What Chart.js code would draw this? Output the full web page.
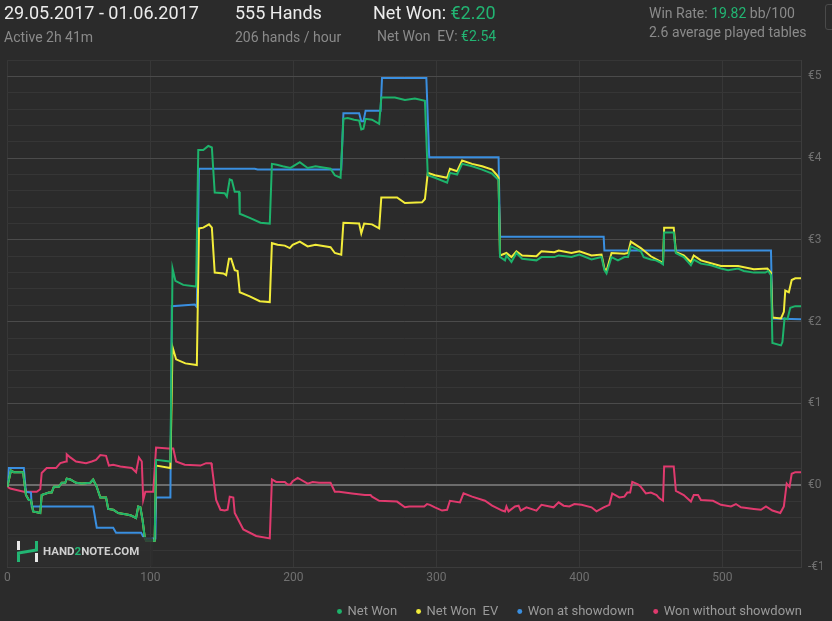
<!DOCTYPE html>
<html>
<head>
<meta charset="utf-8">
<script src="https://cdn.jsdelivr.net/npm/chart.js@4.4.1/dist/chart.umd.min.js"></script>
<style>
html, body { margin: 0; padding: 0; background: #2b2b2b; }
body { width: 832px; height: 621px; position: relative; overflow: hidden; font-family: Roboto, sans-serif; }
#wrap { position: absolute; left: 0; top: 0; width: 832px; height: 621px; }
.t { position: absolute; white-space: pre; }
.big { font-size: 18px; line-height: 18px; color: #ececec; }
.sm { font-size: 14px; line-height: 14px; color: #8a8a8a; }
.g { color: #22b573; }
#logo { position: absolute; left: 8px; top: 537px; width: 145px; height: 29px; background: rgba(46,46,46,0.8); border-radius: 2px; }
#logo svg { position: absolute; left: 4px; top: 3px; }
#logo span { position: absolute; left: 35px; top: 8px; font-size: 11.5px; line-height: 13px; font-weight: bold; color: #cfcfcf; }
#btn { position: absolute; left: 825px; top: 4px; width: 20px; height: 24px; border: 1px solid #4a4a4a; border-radius: 3px; }
</style>
</head>
<body>
<div id="wrap"><canvas id="chart"></canvas></div>

<div class="t big" style="left:4px;top:4px">29.05.2017 - 01.06.2017</div>
<div class="t sm" style="left:4px;top:30px">Active 2h 41m</div>
<div class="t big" style="left:235px;top:4px">555 Hands</div>
<div class="t sm" style="left:235px;top:30px">206 hands / hour</div>
<div class="t big" style="left:373px;top:4px">Net Won: <span class="g">€2.20</span></div>
<div class="t sm" style="left:377px;top:29px">Net Won  EV: <span class="g">€2.54</span></div>
<div class="t sm" style="left:649px;top:6px">Win Rate: <span class="g">19.82</span> bb/100</div>
<div class="t sm" style="left:649px;top:25px">2.6 average played tables</div>
<div id="btn"></div>

<div id="logo">
  <svg width="26" height="24">
    <rect x="5" y="1" width="3" height="9" fill="#e8e8e8"/>
    <polyline points="6.5,22 6.5,13 24.5,10 24.5,1" fill="none" stroke="#22b573" stroke-width="3"/>
    <rect x="23" y="13" width="3" height="9" fill="#e8e8e8"/>
  </svg>
  <span>HAND<span style="position:static;color:#22b573">2</span>NOTE.COM</span>
</div>

<script>
// hand number, euro
var netWon = [
  [0,-0.02],[2.5,0.18],[4.5,0.16],[11,0.16],[13,-0.12],[15,-0.18],[16.5,-0.18],[18,-0.32],[23,-0.34],[24,-0.12],
  [29,-0.09],[31,-0.09],[32.5,-0.02],[36,-0.02],[38,0.03],[40.5,0.03],[41.5,0.08],[44,0.07],[48,0.03],[52,0.02],
  [58,0.03],[60,0.07],[62.5,-0.02],[65,-0.15],[69,-0.15],[70.5,-0.29],[74,-0.30],[77.5,-0.34],[84.5,-0.36],[86.5,-0.37],
  [90,-0.40],[91.5,-0.26],[93,-0.27],[94.5,-0.42],[96,-0.63],[97,-0.68],[103,-0.68],[104,0.31],[114,0.29],[115.5,2.65],
  [117.5,2.50],[123,2.45],[132,2.43],[133.5,4.10],[137,4.10],[140.5,4.15],[143,4.13],[145,3.58],[152,3.57],[153.5,3.53],
  [155.5,3.74],[157,3.73],[159,3.59],[162,3.59],[162.5,3.32],[169.5,3.27],[177,3.21],[183.5,3.20],[185,3.93],[188.5,3.92],
  [192.5,3.90],[198,3.88],[204.5,3.95],[210,3.88],[215.5,3.90],[226,3.87],[229,3.79],[233,3.76],[235,4.48],[238,4.49],
  [242.5,4.47],[246,4.46],[247.5,4.35],[249,4.36],[250.5,4.48],[255,4.47],[260,4.42],[261.5,4.74],[271,4.74],[278,4.71],
  [285,4.73],[292,4.70],[294,3.79],[299,3.76],[307.5,3.70],[309.5,3.82],[314.5,3.80],[318,3.93],[325,3.90],[332,3.86],
  [339,3.81],[342.5,3.75],[343.5,3.73],[344.5,2.79],[348,2.75],[349,2.81],[352.5,2.73],[356,2.84],[360,2.77],[370,2.75],
  [373.5,2.79],[382.5,2.79],[385.5,2.81],[394.5,2.79],[400,2.82],[408.5,2.76],[415.5,2.79],[417.5,2.63],[419,2.59],[422.5,2.79],
  [427,2.75],[431.5,2.79],[434,2.79],[436,2.92],[440,2.89],[443,2.86],[445,2.79],[450,2.76],[453.5,2.75],[456,2.73],
  [458.5,2.70],[459.3,3.09],[466,3.09],[467.5,2.84],[473,2.79],[478,2.69],[480,2.76],[485,2.71],[492,2.69],[499,2.65],
  [504,2.63],[511,2.65],[515,2.62],[522,2.60],[530,2.60],[532,2.62],[534,2.57],[535,1.74],[541,1.71],[542,1.75],
  [543.5,2.04],[545.5,2.03],[547.5,2.17],[551,2.19],[555,2.19]
];

var netWonEV = [
  [0,-0.02],[2.5,0.18],[4.5,0.16],[11,0.16],[13,-0.12],[15,-0.18],[16.5,-0.18],[18,-0.32],[23,-0.34],[24,-0.12],
  [29,-0.09],[31,-0.09],[32.5,-0.02],[36,-0.02],[38,0.03],[40.5,0.03],[41.5,0.08],[44,0.07],[48,0.03],[52,0.02],
  [58,0.03],[60,0.07],[62.5,-0.02],[65,-0.15],[69,-0.15],[70.5,-0.29],[74,-0.30],[77.5,-0.34],[84.5,-0.36],[86.5,-0.37],
  [90,-0.40],[91.5,-0.26],[93,-0.27],[94.5,-0.42],[96,-0.63],[97,-0.68],[103,-0.68],[104,0.24],[114,0.21],[115.5,1.69],
  [118,1.54],[124.5,1.49],[132.5,1.47],[134,3.14],[137,3.15],[141,3.19],[143,3.15],[145,2.60],[151,2.59],[153,2.57],
  [155,2.77],[156.5,2.77],[159,2.63],[161,2.62],[162.5,2.36],[169.5,2.31],[176.5,2.25],[183.5,2.24],[185,2.96],[189,2.94],
  [194,2.93],[197.5,2.90],[199.5,2.94],[204.5,2.98],[210,2.92],[215.5,2.94],[226,2.91],[229,2.84],[233.5,2.82],[235,3.21],
  [246,3.20],[247.5,3.08],[249.5,3.20],[255,3.19],[260,3.14],[261.5,3.52],[272.5,3.52],[278,3.45],[290,3.46],[292,3.50],
  [294,3.82],[299,3.79],[307.5,3.76],[309.5,3.87],[314.5,3.84],[318,3.97],[325,3.93],[332,3.90],[339,3.86],[342.5,3.79],
  [343.5,3.76],[344.5,2.81],[349,2.84],[352.5,2.79],[356,2.86],[360,2.81],[370,2.80],[373.5,2.86],[382.5,2.85],[385.5,2.87],
  [394.5,2.84],[400,2.86],[408.5,2.81],[415.5,2.82],[417.5,2.65],[419,2.62],[422.5,2.84],[431.5,2.83],[434,2.84],[436,2.98],
  [443,2.90],[450,2.80],[458.5,2.72],[459.3,3.15],[466,3.15],[467.5,2.85],[473,2.81],[478,2.73],[480,2.81],[485,2.75],
  [499,2.68],[511,2.68],[522,2.64],[531.5,2.65],[534,2.60],[535,2.05],[541,2.04],[543,2.12],[544,2.38],[546.5,2.36],
  [548.5,2.51],[551,2.53],[555,2.53]
];

var wonAtShowdown = [
  [0,-0.02],[1,0.21],[11.5,0.21],[13,-0.08],[16.5,-0.09],[17,-0.26],[60,-0.26],[62.5,-0.52],[74,-0.52],[76,-0.58],
  [93.5,-0.58],[95,-0.63],[97,-0.65],[103.5,-0.65],[104,-0.15],[114,-0.15],[115,2.19],[131,2.21],[132.5,2.18],[134,3.87],
  [173,3.87],[175,3.86],[233.5,3.86],[235,4.55],[246,4.55],[247.5,4.45],[249,4.45],[250.5,4.58],[261,4.58],[262,4.98],
  [293,4.98],[295,4.01],[343.5,4.01],[344.5,3.04],[417,3.04],[417.5,2.87],[534,2.87],[535,2.04],[555,2.03]
];

var wonWithoutShowdown = [
  [0,-0.02],[2,-0.04],[11.5,-0.08],[20.5,-0.08],[23,-0.05],[24,0.15],[27.5,0.21],[34,0.21],[37,0.27],[41,0.29],
  [41.5,0.38],[44,0.34],[48,0.29],[55,0.27],[59,0.29],[62,0.31],[65,0.37],[69,0.36],[71,0.24],[74,0.25],
  [79,0.23],[87,0.21],[90,0.16],[92,0.34],[94,0.29],[95,-0.18],[96.5,-0.08],[102,-0.08],[104,0.46],[112.5,0.45],
  [116,0.45],[118,0.29],[124,0.25],[135,0.24],[139,0.27],[142.5,0.27],[143,0.23],[146,-0.18],[149,-0.30],[152,-0.31],
  [154,-0.30],[155.5,-0.14],[158,-0.15],[159,-0.34],[165,-0.54],[174,-0.62],[183.5,-0.65],[185,0.07],[188,0.04],[194,0.04],
  [196,0.01],[198,0.01],[199.5,0.05],[203,0.09],[205,0.07],[210,0.02],[213.5,0.04],[218,0.03],[226,0.03],[229,-0.08],
  [232,-0.08],[241,-0.10],[250,-0.12],[254,-0.12],[255,-0.14],[260,-0.19],[272.5,-0.20],[278,-0.27],[281,-0.26],[291.5,-0.26],
  [293.5,-0.23],[295.5,-0.24],[299,-0.27],[304,-0.31],[307.5,-0.30],[309.5,-0.19],[316.5,-0.21],[319,-0.10],[325,-0.14],[334,-0.19],
  [339,-0.25],[346,-0.31],[348,-0.32],[349,-0.26],[350.5,-0.32],[355,-0.26],[357.5,-0.25],[359,-0.31],[363,-0.27],[370,-0.31],
  [373.5,-0.24],[382,-0.27],[385.5,-0.21],[389,-0.25],[393,-0.26],[396.5,-0.23],[401.5,-0.24],[408.5,-0.27],[412,-0.32],[417,-0.27],
  [421,-0.24],[423,-0.10],[428,-0.15],[431.5,-0.14],[433.5,-0.09],[435.5,-0.09],[437,0.04],[441,0.01],[443,-0.02],[446.5,-0.10],
  [450,-0.09],[454,-0.12],[456,-0.16],[458.5,-0.19],[459.3,0.23],[466,0.23],[467.5,-0.07],[473,-0.12],[478,-0.20],[480,-0.12],
  [483,-0.12],[485,-0.18],[493.5,-0.19],[499,-0.24],[506,-0.26],[509.5,-0.23],[513,-0.27],[522,-0.29],[527,-0.30],[530.5,-0.26],
  [535,-0.31],[540.5,-0.34],[543,-0.26],[545,0.02],[547,-0.02],[548.5,0.14],[551,0.16],[555,0.16]
];

var xTicks = [0, 100, 200, 300, 400, 500];
var seriesNames = ['Net Won', 'Net Won  EV', 'Won at showdown', 'Won without showdown'];
var seriesColors = ['#1db36b', '#f2ec3a', '#3a8fe0', '#e03a6e'];

function pts(a) {
  return a.map(function (p) { return {x: p[0], y: p[1]}; });
}
function isWhole(v) { return Math.abs(v - Math.round(v)) < 1e-6; }

Chart.defaults.font.family = 'Roboto';

var series = [netWon, netWonEV, wonAtShowdown, wonWithoutShowdown];
var ctx = document.getElementById('chart');
var myChart = new Chart(ctx, {
  type: 'line',
  data: {
    datasets: series.map(function (s, i) {
      return {
        label: seriesNames[i],
        data: pts(s),
        borderColor: seriesColors[i],
        backgroundColor: seriesColors[i],
        borderWidth: 2,
        pointRadius: 0,
        tension: 0,
        fill: false
      };
    })
  },
  options: {
    responsive: true,
    maintainAspectRatio: false,
    animation: false,
    events: [],
    layout: { padding: { top: 60, left: 4, right: 10, bottom: 0 } },
    plugins: {
      tooltip: { enabled: false },
      legend: {
        position: 'bottom',
        align: 'end',
        maxHeight: 36,
        labels: {
          color: '#9a9a9a',
          font: { size: 13 },
          usePointStyle: true,
          pointStyle: 'circle',
          boxWidth: 3,
          boxHeight: 3.5,
          padding: 20,
          generateLabels: function (chart) {
            return Chart.defaults.plugins.legend.labels.generateLabels(chart).map(function (l) {
              l.lineWidth = 0;
              return l;
            });
          }
        }
      }
    },
    scales: {
      x: {
        type: 'linear',
        min: 0,
        max: 555,
        afterBuildTicks: function (s) { s.ticks = xTicks.map(function (v) { return {value: v}; }); },
        afterFit: function (s) { s.height = 18; },
        ticks: { color: '#707070', padding: 4, font: { size: 12 }, callback: function (v) { return String(v); } },
        grid: { color: '#373737', drawTicks: false },
        border: { color: '#3c3c3c' }
      },
      y: {
        position: 'right',
        min: -1,
        max: 5.2,
        afterFit: function (s) { s.width = 21; },
        ticks: {
          stepSize: 0.2,
          autoSkip: false,
          padding: 7,
          color: '#707070',
          font: { size: 12 },
          callback: function (v) {
            if (!isWhole(v)) return '';
            var n = Math.round(v);
            return n < 0 ? '-€' + Math.abs(n) : '€' + n;
          }
        },
        grid: {
          drawTicks: false,
          color: function (c) {
            var v = c.tick ? c.tick.value : 1;
            if (Math.abs(v) < 1e-6) return '#6c6c6c';
            if (isWhole(v)) return '#4b4b4b';
            return '#363636';
          },
          lineWidth: function (c) { return (c.tick && Math.abs(c.tick.value) < 1e-6) ? 2 : 1; }
        },
        border: { color: '#3c3c3c' }
      }
    }
  }
});
</script>
</body>
</html>
